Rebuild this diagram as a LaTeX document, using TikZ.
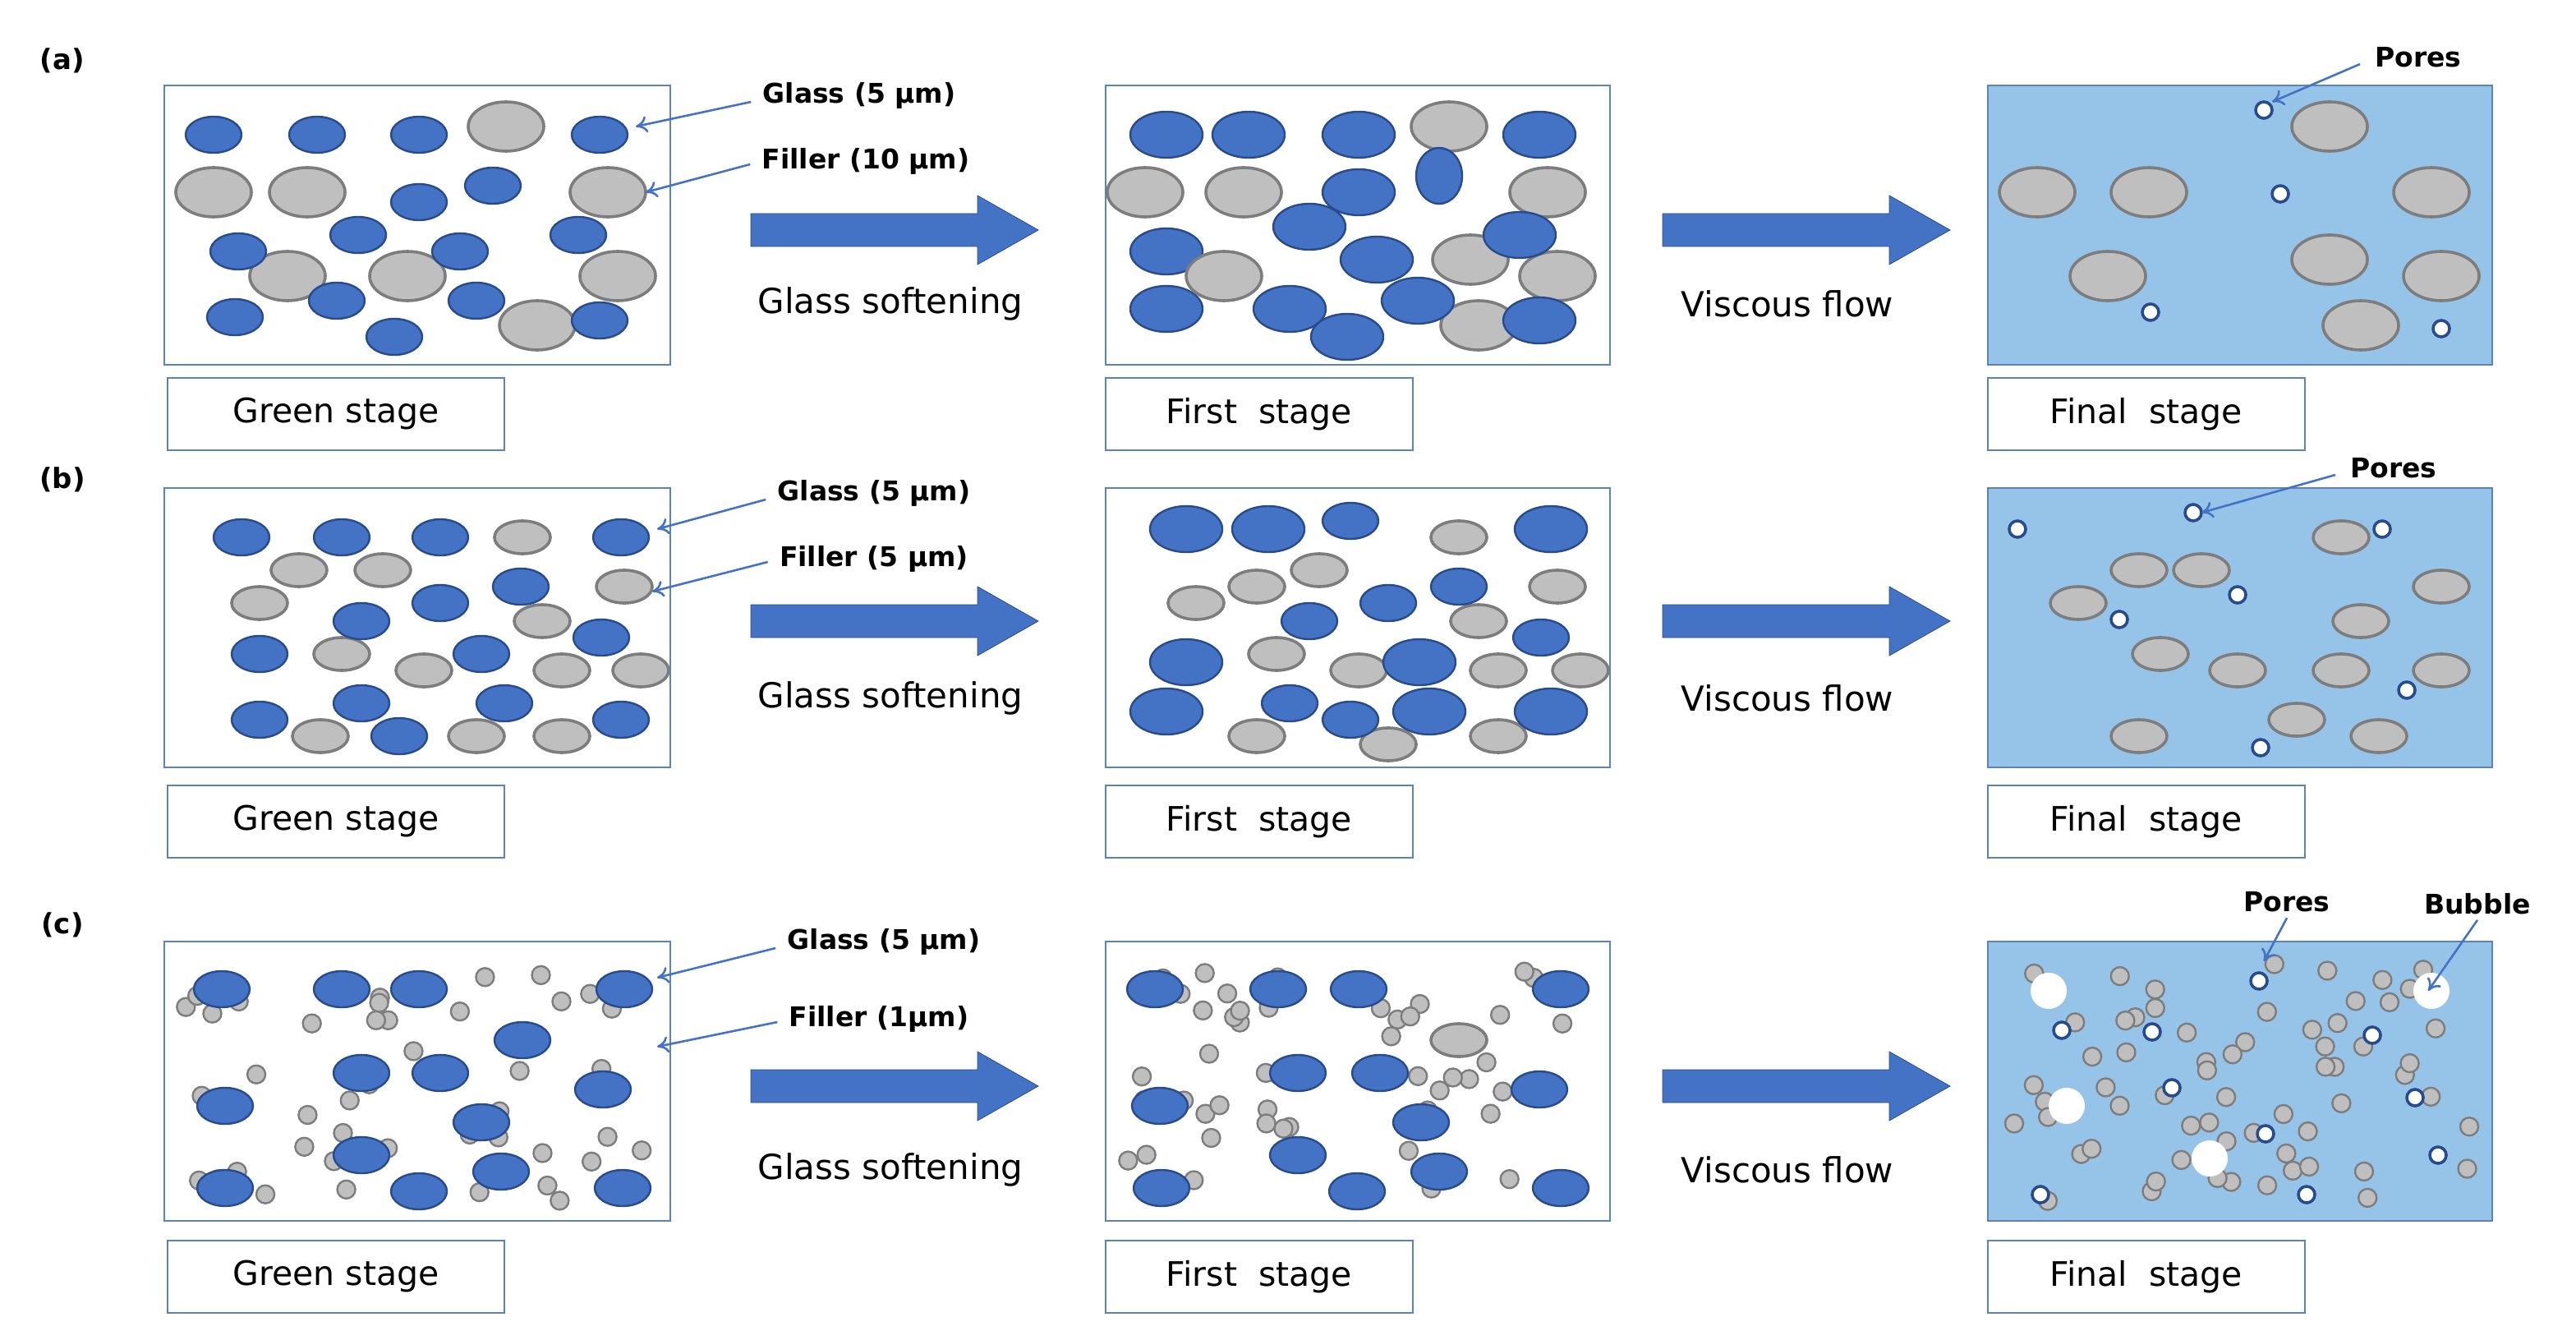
\documentclass[tikz,border=0pt]{standalone}
\usepackage{fontspec}
\setmainfont{DejaVu Sans}
\usetikzlibrary{arrows.meta}
\definecolor{gb}{RGB}{68,114,196}
\definecolor{gbd}{RGB}{40,75,140}
\definecolor{fg}{RGB}{191,191,191}
\definecolor{fgd}{RGB}{125,125,125}
\definecolor{bgf}{RGB}{150,195,232}
\definecolor{frame}{RGB}{90,130,190}
\begin{document}
\begin{tikzpicture}[x=1pt,y=-1pt,
 glass/.style={fill=gb,draw=gbd,line width=1.2pt},
 filler/.style={fill=fg,draw=fgd,line width=1.8pt},
 pore/.style={fill=white,draw=gbd,line width=1.8pt},
 box/.style={draw=frame,line width=1pt},
 lab/.style={draw=frame,line width=1pt,minimum height=44pt,font=\fontsize{20.5}{23}\selectfont,inner xsep=10pt},
 note/.style={font=\bfseries\fontsize{16.5}{19}\selectfont,inner xsep=1pt},
 ptr/.style={draw=gb,line width=1.3pt,-{To[length=7pt,width=10pt]}},
 txt/.style={font=\fontsize{21}{24}\selectfont}]
\useasboundingbox (0,0) rectangle (1568,815.5);
\def\G#1{\foreach \x/\y in {#1}{\draw[glass] (\x,\y) ellipse [x radius=17,y radius=11];}}
\def\GL#1{\foreach \x/\y in {#1}{\draw[glass] (\x,\y) ellipse [x radius=22,y radius=14];}}
\def\F#1{\foreach \x/\y in {#1}{\draw[filler] (\x,\y) ellipse [x radius=23,y radius=15];}}
\def\FS#1{\foreach \x/\y in {#1}{\draw[filler] (\x,\y) ellipse [x radius=17,y radius=10];}}
\def\P#1{\foreach \x/\y in {#1}{\draw[pore] (\x,\y) circle [radius=5];}}
\def\T#1#2#3#4{\pgfmathsetseed{#4}\foreach \i in {1,...,#3}{\pgfmathsetmacro\xx{#1+12+(283*rnd)}\pgfmathsetmacro\yy{#2+12+(146*rnd)}\draw[filler,line width=1.2pt] (\xx,\yy) circle [radius=5.5];}}
% block arrow
\def\BA#1#2{\fill[gb,draw=gbd] (#1,#2-10) -- (#1+138,#2-10) -- (#1+138,#2-21) -- (#1+175,#2) -- (#1+138,#2+21) -- (#1+138,#2+10) -- (#1,#2+10) -- cycle;}
% panel labels
\node[note,font=\bfseries\fontsize{17}{20}\selectfont] (la) at (38,37) {(a)};
\node[note,font=\bfseries\fontsize{17}{20}\selectfont] (lb) at (38,292) {(b)};
\node[note,font=\bfseries\fontsize{17}{20}\selectfont] (lc) at (38,563) {(c)};
\foreach \r/\yt/\yl in {a/52/252, b/297/500, c/573/777}{
 \node[lab,minimum width=205pt] (g\r) at (204.5,\yl) {Green stage};
 \node[lab,minimum width=187pt] (f\r) at (766.5,\yl) {First\ \ stage};
 \node[lab,minimum width=193pt] (z\r) at (1306.5,\yl) {Final\ \ stage};
}
% boxes backgrounds
\foreach \yt in {52,297,573}{\fill[bgf] (1210,\yt) rectangle (1517,\yt+170);}
% ---------- row a
\F{308/77,130/117,187/117,370/117,175/168,248/168,376/168,327/198}
\G{130/82,193/82,255/82,365/82,300/113,255/123,218/143,145/153,280/153,352/143,205/183,143/193,290/183,240/205}
\draw[glass] (365,195) ellipse [x radius=17,y radius=11];
\F{882/77,697/117,757/117,942/117,895/158,948/168,900/198}
\GL{710/82,760/82,827/82,937/82,827/117,797/138,710/153,838/158,925/143,710/188,785/188,863/183,820/205,937/195}
\draw[glass] (876,107) ellipse [x radius=14,y radius=17];
\F{745/168}
\F{1418/77,1240/117,1308/117,1480/117,1418/158,1283/168,1486/168,1437/198}
\P{1378/67,1388/118,1309/190,1486/200}
% ---------- row b
\FS{318/327,182/347,233/347,158/367,380/357,330/378,208/398,258/408,342/408,390/408,195/448,290/448,342/448}
\G{147/327,208/327,268/327,378/327,317/357,268/367,220/378,158/398,293/398,366/388,220/428,158/438,307/428,243/448,378/438}
\FS{888/327,765/357,803/347,728/367,900/378,948/357,777/398,827/408,912/408,962/408,765/448,845/453,912/448}
\GL{722/322,772/322,944/322,722/403,864/403,710/433,870/433,944/433}
\G{822/317,888/357,797/378,845/367,938/388,785/428,822/438}
\FS{1425/327,1302/347,1340/347,1265/367,1486/357,1437/378,1315/398,1362/408,1425/408,1486/408,1398/438,1302/448,1448/448}
\P{1228/322,1335/312,1450/322,1362/362,1290/377,1465/420,1376/455}
% ---------- row c
\T{100}{573}{45}{7}
\G{135/602,208/602,255/602,380/602,318/633,220/653,268/653,137/673,367/663,293/683,220/703,137/723,255/725,305/713,379/723}
\T{673}{573}{48}{11}
\G{703/602,778/602,827/602,950/602,790/653,840/653,937/663,706/673,865/683,790/703,876/713,707/723,826/725,950/723}
\FS{888/633}
\T{1210}{573}{65}{5}
\P{1255/627,1310/628,1375/597,1444/630,1322/662,1379/690,1484/703,1242/727,1404/727,1470/668}
\foreach \x/\y in {1247/603,1480/603,1258/673,1345/705}{\fill[white] (\x,\y) circle [radius=11];}
% frames
\foreach \yt in {52,297,573}{
 \draw[box] (100,\yt) rectangle (408,\yt+170);
 \draw[box] (673,\yt) rectangle (980,\yt+170);
 \draw[box] (1210,\yt) rectangle (1517,\yt+170);}
% arrows and texts
\foreach \y/\t in {140/185,378/425,661/712}{
 \BA{457}{\y}\BA{1012}{\y}
 \node[txt] at (542,\t) {Glass softening};
 \node[txt] at (1088,\t) {Viscous flow};}
% annotations
\node[note] (na1) at (523,58) {Glass (5 µm)};
\node[note] (na2) at (527,98) {Filler (10 µm)};
\node[note] (na3) at (1472,35) {Pores};
\coordinate (ta1) at (387,77); \coordinate (ta2) at (393,117); \coordinate (ta3) at (1383,62);
\draw[ptr] (na1.west) ++(-6,4) -- (ta1); \draw[ptr] (na2.west) ++(-6,2) -- (ta2); \draw[ptr] (na3.west) ++(-8,4) -- (ta3);
\node[note] (nb1) at (532,300) {Glass (5 µm)};
\node[note] (nb2) at (532,340) {Filler (5 µm)};
\node[note] (nb3) at (1457,285) {Pores};
\coordinate (tb1) at (400,322); \coordinate (tb2) at (397,360); \coordinate (tb3) at (1340,312);
\draw[ptr] (nb1.west) ++(-6,4) -- (tb1); \draw[ptr] (nb2.west) ++(-6,2) -- (tb2); \draw[ptr] (nb3.west) ++(-8,4) -- (tb3);
\node[note] (nc1) at (538,573) {Glass (5 µm)};
\node[note] (nc2) at (535,620) {Filler (1µm)};
\node[note] (nc3) at (1392,549) {Pores};
\node[note] (nc4) at (1508,550) {Bubble};
\coordinate (tc1) at (400,595); \coordinate (tc2) at (400,637); \coordinate (tc3) at (1378,585); \coordinate (tc4) at (1478,603);
\draw[ptr] (nc1.west) ++(-6,4) -- (tc1); \draw[ptr] (nc2.west) ++(-6,2) -- (tc2); \draw[ptr] (nc3.south) -- (tc3); \draw[ptr] (nc4.south) -- (tc4);
\end{tikzpicture}
\end{document}
